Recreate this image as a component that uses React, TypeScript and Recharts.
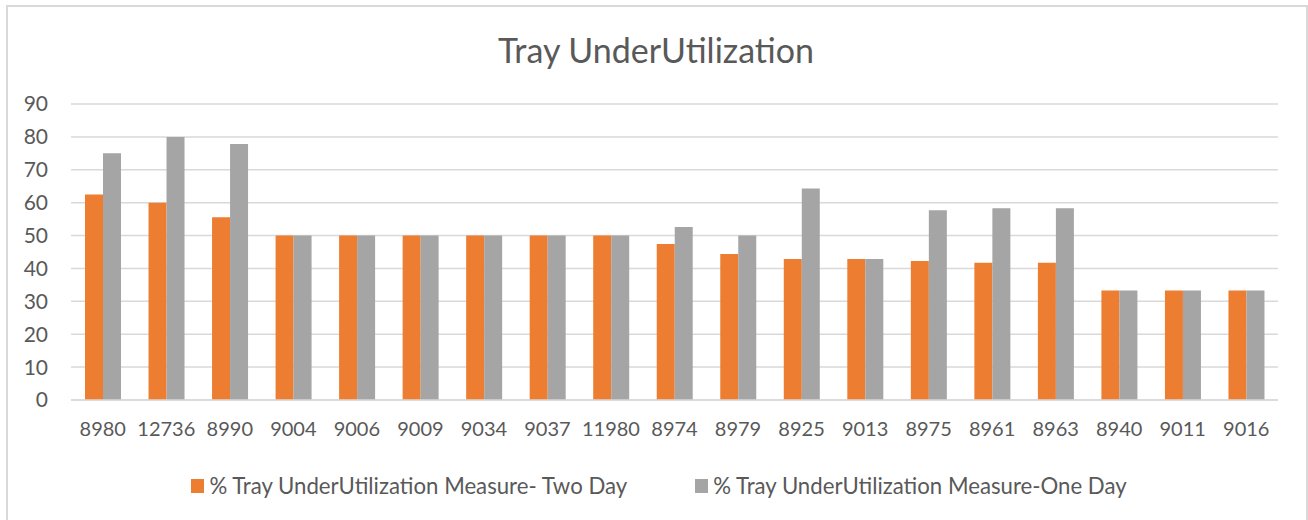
import React from "react";
import { BarChart, Bar, XAxis, YAxis, CartesianGrid, Legend } from "recharts";

const categories = ["8980", "12736", "8990", "9004", "9006", "9009", "9034", "9037", "11980", "8974", "8979", "8925", "9013", "8975", "8961", "8963", "8940", "9011", "9016"];
const twoDay = [62.5, 60, 55.6, 50, 50, 50, 50, 50, 50, 47.4, 44.4, 42.9, 42.9, 42.3, 41.7, 41.7, 33.3, 33.3, 33.3];
const oneDay = [75, 80, 77.8, 50, 50, 50, 50, 50, 50, 52.6, 50, 64.3, 42.9, 57.7, 58.3, 58.3, 33.3, 33.3, 33.3];
const yTicks = [0, 10, 20, 30, 40, 50, 60, 70, 80, 90];
const seriesNames = ["% Tray UnderUtilization Measure- Two Day", "% Tray UnderUtilization Measure-One Day"];
const seriesColors = ["#ED7D31", "#A5A5A5"];
const title = "Tray UnderUtilization";

const data = categories.map((c, i) => ({ name: c, twoDay: twoDay[i], oneDay: oneDay[i] }));

const FONT = "Lato, 'Open Sans', sans-serif";
const TEXT = "#595959";

const LegendContent = () => (
  <div style={{ display: "flex", justifyContent: "center", alignItems: "center", fontFamily: FONT, fontSize: 22.2, color: TEXT, paddingTop: 43, paddingLeft: 40, lineHeight: "26px" }}>
    {seriesNames.map((n, i) => (
      <div key={n} style={{ display: "flex", alignItems: "center", marginRight: i === 0 ? 68 : 0 }}>
        <span style={{ display: "inline-block", width: 13, height: 14, background: seriesColors[i], marginRight: 5 }} />
        <span>{n}</span>
      </div>
    ))}
  </div>
);

export default function App() {
  return (
    <div style={{ position: "absolute", left: 0, top: 0, width: 1308, height: 520, background: "#fff", overflow: "hidden" }}>
      <div style={{ position: "absolute", left: 6, top: 5, width: 1298, height: 540, border: "2px solid #d9d9d9" }} />
      <div style={{ position: "absolute", left: 0, top: 28, width: 1308, textAlign: "center", fontFamily: FONT, fontSize: 34, color: TEXT, lineHeight: "44px", paddingLeft: 2 }}>
        {title}
      </div>
      <div style={{ position: "absolute", left: 0, top: 0 }}>
        <BarChart width={1308} height={520} data={data} margin={{ top: 104, right: 30, left: 0, bottom: 10 }} barGap={0} barSize={18}>
          <CartesianGrid vertical={false} stroke="#d9d9d9" strokeWidth={1.5} />
          <XAxis
            dataKey="name"
            axisLine={{ stroke: "#d9d9d9", strokeWidth: 1.5 }}
            tickLine={false}
            tickSize={0}
            tickMargin={22}
            interval={0}
            height={30}
            tick={{ fill: TEXT, fontSize: 20, fontFamily: FONT }}
          />
          <YAxis
            domain={[0, 90]}
            ticks={yTicks}
            axisLine={false}
            tickLine={false}
            tickSize={0}
            tickMargin={23}
            width={71}
            tick={{ fill: TEXT, fontSize: 21, fontFamily: FONT }}
          />
          <Legend verticalAlign="bottom" height={80} content={<LegendContent />} />
          <Bar dataKey="twoDay" name={seriesNames[0]} fill={seriesColors[0]} isAnimationActive={false} />
          <Bar dataKey="oneDay" name={seriesNames[1]} fill={seriesColors[1]} isAnimationActive={false} />
        </BarChart>
      </div>
    </div>
  );
}
